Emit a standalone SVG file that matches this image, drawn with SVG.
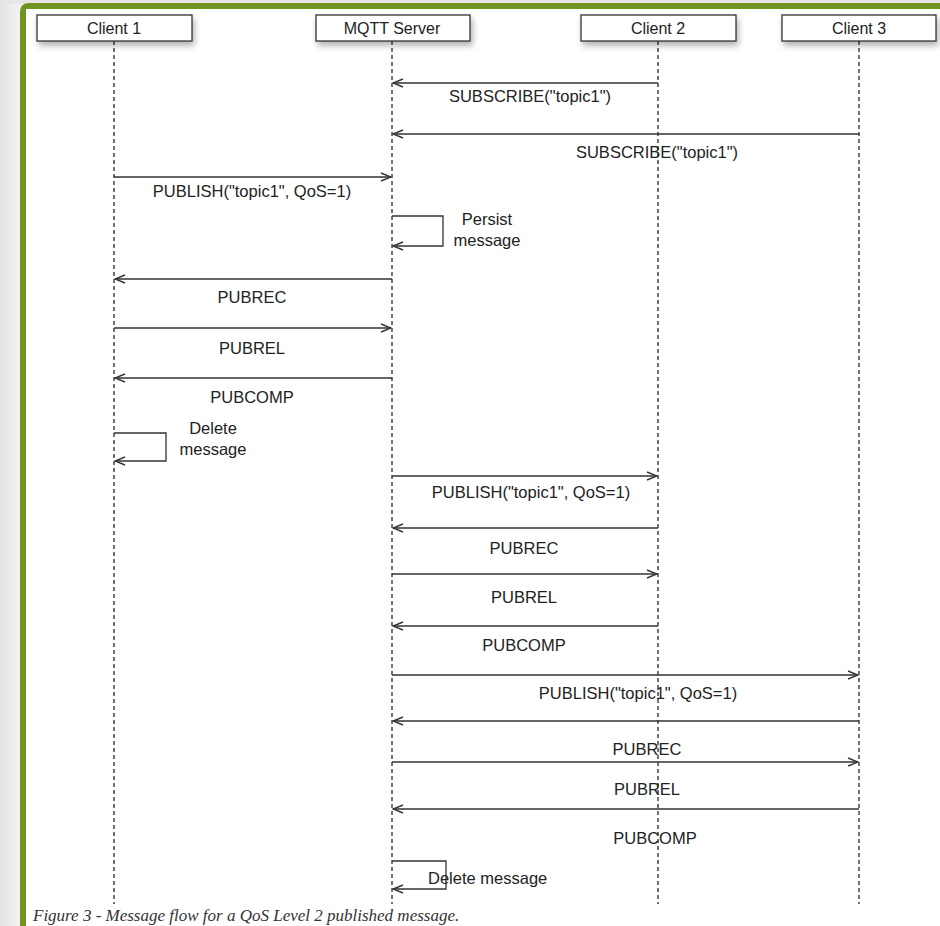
<svg xmlns="http://www.w3.org/2000/svg" width="940" height="926" viewBox="0 0 940 926">
  <defs>
    <linearGradient id="side" x1="0" y1="0" x2="1" y2="0">
      <stop offset="0" stop-color="#e4e4e4"/>
      <stop offset="1" stop-color="#f4f4f4"/>
    </linearGradient>
    <filter id="shadow" x="-10%" y="-30%" width="125%" height="190%">
      <feDropShadow dx="2" dy="4" stdDeviation="3" flood-color="#000" flood-opacity="0.3"/>
    </filter>
    <marker id="open" viewBox="0 0 12 10" refX="11" refY="5" markerWidth="12" markerHeight="10" markerUnits="userSpaceOnUse" orient="auto">
      <path d="M1,1 L11,5 L1,9" fill="none" stroke="#333" stroke-width="1.4"/>
    </marker>
  </defs>
  <style>
    .actor rect { fill: #fff; stroke: #333; stroke-width: 1.3; }
    .actor text, .lbl { font-family: "Liberation Sans", Arial, sans-serif; fill: #222; }
    .actor text { text-anchor: middle; font-size: 16px; }
    .life { stroke: #444; stroke-width: 1.5; stroke-dasharray: 4 3; fill: none; }
    .msg { stroke: #333; stroke-width: 1.3; fill: none; marker-end: url(#open); }
    .lbl { text-anchor: middle; font-size: 16.5px; }
    .lbl.start { text-anchor: start; }
    .caption { font-family: "Liberation Serif", "Times New Roman", serif; font-style: italic; font-size: 17px; fill: #333; }
  </style>

  <!-- page background and green frame -->
  <rect x="0" y="0" width="940" height="926" fill="#ffffff"/>
  <rect x="0" y="0" width="22" height="926" fill="url(#side)"/>
  <rect x="0" y="0" width="940" height="4" fill="#e6e6e6"/>
  <path d="M20,926 V12 Q20,3 29,3 H940 V9 H26 V926 Z" fill="#6f9420"/>

  <!-- lifelines -->
  <g id="lifelines">
    <line class="life" x1="114" y1="41" x2="114" y2="904"/>
    <line class="life" x1="392" y1="41" x2="392" y2="904"/>
    <line class="life" x1="658" y1="41" x2="658" y2="904"/>
    <line class="life" x1="859" y1="41" x2="859" y2="904"/>
  </g>

  <!-- participants -->
  <g id="client1" class="actor">
    <rect x="37" y="15" width="155" height="26" filter="url(#shadow)"/>
    <text x="114" y="34">Client 1</text>
  </g>
  <g id="mqtt-server" class="actor">
    <rect x="316" y="15" width="154" height="26" filter="url(#shadow)"/>
    <text x="392" y="34">MQTT Server</text>
  </g>
  <g id="client2" class="actor">
    <rect x="581" y="15" width="155" height="26" filter="url(#shadow)"/>
    <text x="658" y="34">Client 2</text>
  </g>
  <g id="client3" class="actor">
    <rect x="782" y="15" width="154" height="26" filter="url(#shadow)"/>
    <text x="859" y="34">Client 3</text>
  </g>

  <!-- messages -->
  <g id="connectors">
    <line class="msg" x1="658" y1="83" x2="393" y2="83"/>
    <line class="msg" x1="859" y1="134" x2="393" y2="134"/>
    <line class="msg" x1="114" y1="177" x2="391" y2="177"/>
    <path class="msg" d="M392,216 H443 V246 H393"/>
    <line class="msg" x1="392" y1="279" x2="115" y2="279"/>
    <line class="msg" x1="114" y1="328" x2="391" y2="328"/>
    <line class="msg" x1="392" y1="378" x2="115" y2="378"/>
    <path class="msg" d="M114,433 H166 V461 H115"/>
    <line class="msg" x1="392" y1="476" x2="657" y2="476"/>
    <line class="msg" x1="658" y1="528" x2="393" y2="528"/>
    <line class="msg" x1="392" y1="574" x2="657" y2="574"/>
    <line class="msg" x1="658" y1="626" x2="393" y2="626"/>
    <line class="msg" x1="392" y1="675" x2="858" y2="675"/>
    <line class="msg" x1="859" y1="721" x2="393" y2="721"/>
    <line class="msg" x1="392" y1="762" x2="858" y2="762"/>
    <line class="msg" x1="859" y1="809" x2="393" y2="809"/>
    <path class="msg" d="M392,861 H446 V889 H393"/>
  </g>

  <!-- message labels -->
  <g id="labels">
    <text class="lbl" x="530" y="102">SUBSCRIBE("topic1")</text>
    <text class="lbl" x="657" y="158">SUBSCRIBE("topic1")</text>
    <text class="lbl" x="252" y="197">PUBLISH("topic1", QoS=1)</text>
    <text class="lbl" x="487" y="225">Persist</text>
    <text class="lbl" x="487" y="246">message</text>
    <text class="lbl" x="252" y="303">PUBREC</text>
    <text class="lbl" x="252" y="354">PUBREL</text>
    <text class="lbl" x="252" y="403">PUBCOMP</text>
    <text class="lbl" x="213" y="434">Delete</text>
    <text class="lbl" x="213" y="455">message</text>
    <text class="lbl" x="531" y="498">PUBLISH("topic1", QoS=1)</text>
    <text class="lbl" x="524" y="554">PUBREC</text>
    <text class="lbl" x="524" y="603">PUBREL</text>
    <text class="lbl" x="524" y="651">PUBCOMP</text>
    <text class="lbl" x="638" y="699">PUBLISH("topic1", QoS=1)</text>
    <text class="lbl" x="647" y="755">PUBREC</text>
    <text class="lbl" x="647" y="795">PUBREL</text>
    <text class="lbl" x="655" y="844">PUBCOMP</text>
    <text class="lbl start" x="428" y="884">Delete message</text>
  </g>

  <text class="caption" x="33" y="921">Figure 3 - Message flow for a QoS Level 2 published message.</text>
</svg>
